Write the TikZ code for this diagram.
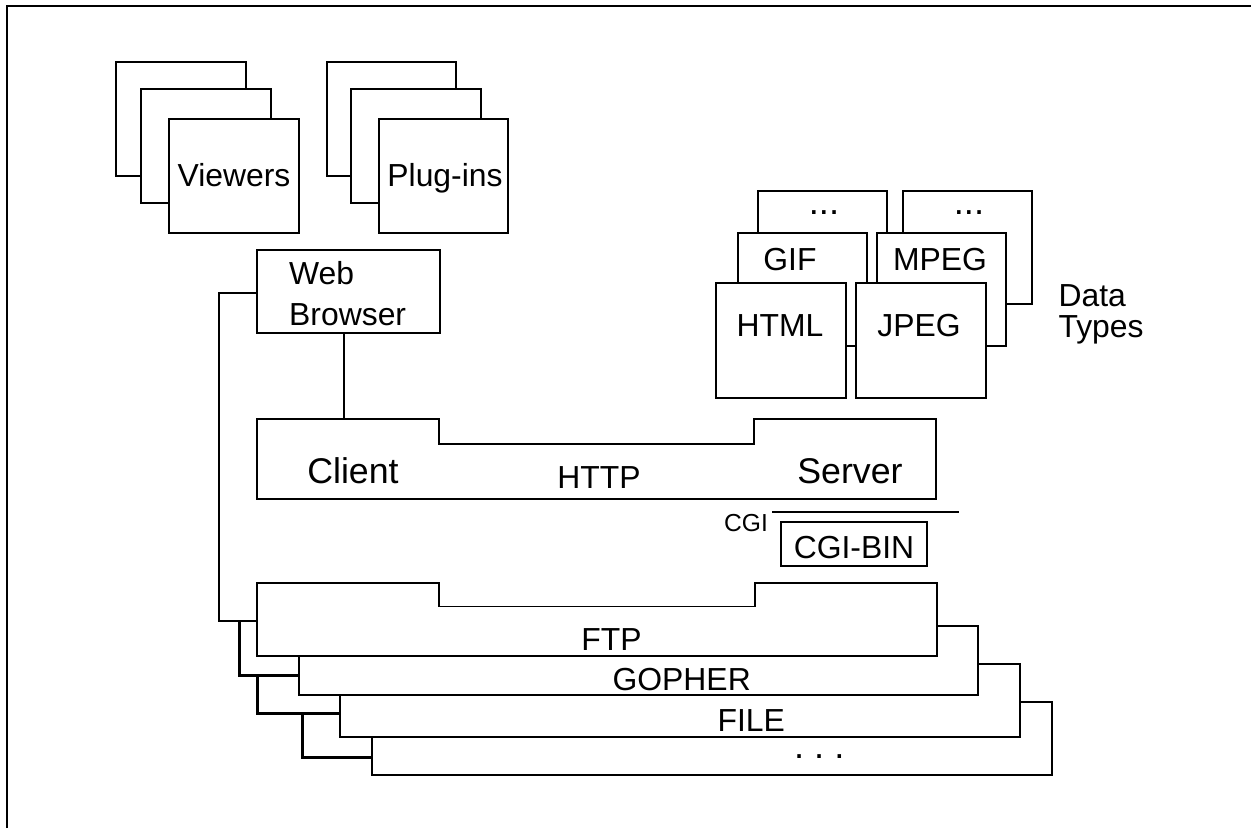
\documentclass[tikz,border=0pt]{standalone}
\usepackage{fontspec}
\setmainfont{Liberation Sans}
\begin{document}
\begin{tikzpicture}[x=0.03cm,y=-0.03cm,
  bx/.style={draw=black, fill=white, line width=1.6pt},
  ln/.style={draw=black, line width=1.6pt},
  thk/.style={draw=black, line width=2.1pt},
  lbl/.style={inner sep=0pt, anchor=base, font=\fontsize{27.2}{30}\selectfont},
  lbll/.style={lbl, anchor=base west},
  big/.style={lbl, font=\fontsize{30.5}{33}\selectfont},
  small/.style={lbl, font=\fontsize{21}{24}\selectfont},
  dotst/.style={lbl, font=\fontsize{31}{33}\selectfont}]
\useasboundingbox (0,0) rectangle (1251,828);
% frame
\draw[line width=2.4pt] (7,828) -- (7,6) -- (1251,6);

% Viewers stack
\draw[bx] (116,62) rectangle (246,176);
\draw[bx] (141,89) rectangle (271,203);
\draw[bx] (169,119) rectangle (299,233);
\node[lbl] (viewers) at (234,186.7) {Viewers};
% Plug-ins stack
\draw[bx] (327,62) rectangle (456,176);
\draw[bx] (351,89) rectangle (481,203);
\draw[bx] (379,119) rectangle (508,233);
\node[lbl] (plugins) at (445,186.7) {Plug-ins};

% Data types
\draw[bx] (758.3,190.7) rectangle (887.3,304.7);
\draw[bx] (903.3,190.7) rectangle (1032.3,304);
\node[dotst] (dots1) at (824,214) {...};
\node[dotst] (dots2) at (969,214) {...};
\draw[bx] (738.3,232.7) rectangle (866.7,346);
\draw[bx] (877.3,232.7) rectangle (1006,346);
\node[lbl] (gif) at (790,270.7) {GIF};
\node[lbl] (mpeg) at (940,270.7) {MPEG};
\draw[bx] (716,283.3) rectangle (845.7,397.7);
\draw[bx] (855.7,283.3) rectangle (985.7,397.7);
\node[lbl] (html) at (780,336.7) {HTML};
\node[lbl] (jpeg) at (919,336.7) {JPEG};
\node[lbll] (data) at (1058.3,306.7) {Data};
\node[lbll] (types) at (1058.3,337) {Types};

% Web browser
\draw[bx] (257,250) rectangle (440,333);
\node[lbll] (web) at (289,284.3) {Web};
\node[lbll] (browser) at (289,325) {Browser};
\coordinate (wbB) at (344.3,333);
\coordinate (wbL) at (257,292.7);

% HTTP
\draw[bx] (257.4,419.3) -- (438.6,419.3) -- (438.6,443.7) -- (753.8,443.7) -- (753.8,419.3)
  -- (936.3,419.3) -- (936.3,498.7) -- (257.4,498.7) -- cycle;
\coordinate (httpT) at (344.3,419.3);
\node[big] (client) at (353,483.3) {Client};
\node[lbl] (http) at (599,488) {HTTP};
\node[big] (server) at (850,483.3) {Server};
\draw[ln] (wbB) -- (httpT);

% CGI
\coordinate (cgiA) at (772,511.7);
\coordinate (cgiB) at (959,511.7);
\draw[ln] (cgiA) -- (cgiB);
\node[small] (cgi) at (746,531.7) {CGI};
\draw[bx] (781.3,521.7) rectangle (926.7,566);
\node[lbl] (cgibin) at (854,558) {CGI-BIN};

% protocol stack
\draw[bx] (372.3,701.7) rectangle (1051.7,775);
\draw[bx] (340,663.7) rectangle (1020,736.7);
\draw[bx] (299,626) rectangle (978.3,695);
\draw[bx] (257.3,583.3) -- (439.3,583.3) -- (439.3,606.5) -- (755,606.5) -- (755,583.3)
  -- (937.3,583.3) -- (937.3,655.7) -- (257.3,655.7) -- cycle;
\node[lbl] (ftp) at (611.5,650) {FTP};
\node[lbl] (gopher) at (681.7,690) {GOPHER};
\node[lbl] (file) at (751.3,731.7) {FILE};
\node[dotst] (more) at (819.3,758) {.\ .\ .};

\coordinate (ftpL) at (257.3,621);
\coordinate (gopL) at (299,675.7);
\coordinate (fileL) at (340,713.3);
\coordinate (moreL) at (372.3,757.3);
\draw[ln] (wbL) -| (219.3,621) -- (ftpL);
\draw[thk] (239.3,621) |- (gopL);
\draw[thk] (257.3,675.7) |- (fileL);
\draw[thk] (302.3,713.3) |- (moreL);
\end{tikzpicture}
\end{document}
